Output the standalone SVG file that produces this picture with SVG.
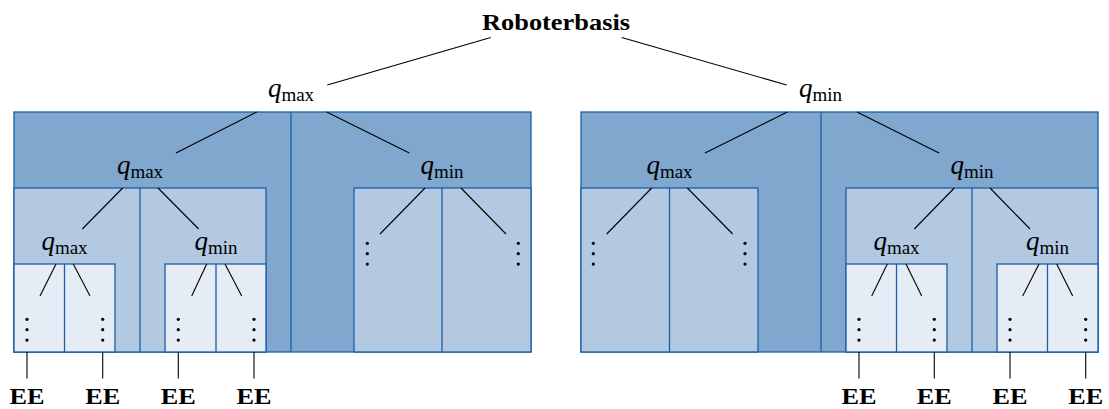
<svg xmlns="http://www.w3.org/2000/svg" width="1109" height="409" viewBox="0 0 1109 409">
<style>
.dark{fill:#80a7ce;stroke:#1b5fa7;stroke-width:1.3}
.mid{fill:#b3c9e1;stroke:#1b5fa7;stroke-width:1.3}
.light{fill:#e5ecf5;stroke:#1b5fa7;stroke-width:1.3}
.div{stroke:#1b5fa7;stroke-width:1.3}
.edge{stroke:#000;stroke-width:1.1;fill:none}
.q{font-family:"Liberation Serif",serif;font-size:27px;fill:#000}
.qi{font-style:italic}
.sub{font-size:19px}
.bold{font-family:"Liberation Serif",serif;font-weight:bold;fill:#000}
.ee{font-size:23px}
.dot{fill:#000}
</style>
<defs>
<g id="vdots"><circle cx="0" cy="0" r="1.6"/><circle cx="0" cy="10.4" r="1.6"/><circle cx="0" cy="20.8" r="1.6"/></g>
</defs>

<g id="box-left">
<rect class="dark" x="14" y="112" width="517" height="240"/>
<line class="div" x1="291" y1="112" x2="291" y2="352"/>
<rect class="mid" x="14" y="188" width="252" height="164"/>
<line class="div" x1="140" y1="188" x2="140" y2="352"/>
<rect class="mid" x="354" y="188" width="177" height="164"/>
<line class="div" x1="442" y1="188" x2="442" y2="352"/>
<rect class="light" x="14" y="264" width="101" height="88"/>
<line class="div" x1="64.5" y1="264" x2="64.5" y2="352"/>
<rect class="light" x="165" y="264" width="101" height="88"/>
<line class="div" x1="216" y1="264" x2="216" y2="352"/>
</g>

<g id="box-right">
<rect class="dark" x="581" y="112" width="517" height="240"/>
<line class="div" x1="821" y1="112" x2="821" y2="352"/>
<rect class="mid" x="581" y="188" width="177" height="164"/>
<line class="div" x1="669.5" y1="188" x2="669.5" y2="352"/>
<rect class="mid" x="846" y="188" width="252" height="164"/>
<line class="div" x1="972" y1="188" x2="972" y2="352"/>
<rect class="light" x="846" y="264" width="101" height="88"/>
<line class="div" x1="896.5" y1="264" x2="896.5" y2="352"/>
<rect class="light" x="997" y="264" width="101" height="88"/>
<line class="div" x1="1047.5" y1="264" x2="1047.5" y2="352"/>
</g>

<g id="connectors" class="edge">
<line x1="490.7" y1="37.5" x2="327.3" y2="85"/>
<line x1="621.7" y1="37.5" x2="786.7" y2="85"/>
<line x1="256.7" y1="112" x2="176" y2="153"/>
<line x1="326.7" y1="112" x2="409.3" y2="153"/>
<line x1="787.3" y1="112" x2="705" y2="153"/>
<line x1="857" y1="112" x2="939" y2="153"/>
<line x1="122.7" y1="188" x2="82.3" y2="229"/>
<line x1="158" y1="188" x2="198.7" y2="229"/>
<line x1="425" y1="188" x2="380" y2="234"/>
<line x1="461" y1="188" x2="506" y2="234"/>
<line x1="651.7" y1="188" x2="606.7" y2="234"/>
<line x1="687.3" y1="188" x2="732.7" y2="234"/>
<line x1="954.3" y1="188" x2="914.3" y2="229"/>
<line x1="990" y1="188" x2="1030" y2="229"/>
<line x1="56" y1="264" x2="40" y2="296"/>
<line x1="73.3" y1="264" x2="90" y2="296"/>
<line x1="206.7" y1="264" x2="191.7" y2="296"/>
<line x1="225" y1="264" x2="241.7" y2="296"/>
<line x1="887.3" y1="264" x2="871.7" y2="296"/>
<line x1="906" y1="264" x2="921.7" y2="296"/>
<line x1="1039" y1="264" x2="1022.7" y2="296"/>
<line x1="1056.7" y1="264" x2="1072.7" y2="296"/>
<line x1="27" y1="352" x2="27" y2="378.5"/>
<line x1="102.7" y1="352" x2="102.7" y2="378.5"/>
<line x1="178.3" y1="352" x2="178.3" y2="378.5"/>
<line x1="254" y1="352" x2="254" y2="378.5"/>
<line x1="859" y1="352" x2="859" y2="378.5"/>
<line x1="934.3" y1="352" x2="934.3" y2="378.5"/>
<line x1="1010" y1="352" x2="1010" y2="378.5"/>
<line x1="1085.7" y1="352" x2="1085.7" y2="378.5"/>
</g>

<g id="root"><text class="bold" x="556" y="30" font-size="23" text-anchor="middle" textLength="148" lengthAdjust="spacingAndGlyphs">Roboterbasis</text></g>

<g id="n-qmax-1"><text class="q" x="291" y="97" text-anchor="middle"><tspan class="qi">q</tspan><tspan class="sub" dy="4">max</tspan></text></g>
<g id="n-qmin-1"><text class="q" x="820.5" y="97" text-anchor="middle"><tspan class="qi">q</tspan><tspan class="sub" dy="4">min</tspan></text></g>

<g id="n-qmax-2a"><text class="q" x="140" y="173.5" text-anchor="middle"><tspan class="qi">q</tspan><tspan class="sub" dy="4">max</tspan></text></g>
<g id="n-qmin-2a"><text class="q" x="442" y="173.5" text-anchor="middle"><tspan class="qi">q</tspan><tspan class="sub" dy="4">min</tspan></text></g>
<g id="n-qmax-2b"><text class="q" x="669.5" y="173.5" text-anchor="middle"><tspan class="qi">q</tspan><tspan class="sub" dy="4">max</tspan></text></g>
<g id="n-qmin-2b"><text class="q" x="972" y="173.5" text-anchor="middle"><tspan class="qi">q</tspan><tspan class="sub" dy="4">min</tspan></text></g>

<g id="n-qmax-3a"><text class="q" x="64.5" y="250" text-anchor="middle"><tspan class="qi">q</tspan><tspan class="sub" dy="4">max</tspan></text></g>
<g id="n-qmin-3a"><text class="q" x="216" y="250" text-anchor="middle"><tspan class="qi">q</tspan><tspan class="sub" dy="4">min</tspan></text></g>
<g id="n-qmax-3b"><text class="q" x="896.5" y="250" text-anchor="middle"><tspan class="qi">q</tspan><tspan class="sub" dy="4">max</tspan></text></g>
<g id="n-qmin-3b"><text class="q" x="1047.5" y="250" text-anchor="middle"><tspan class="qi">q</tspan><tspan class="sub" dy="4">min</tspan></text></g>

<g id="dots-level2" class="dot">
<use href="#vdots" x="367.3" y="243.3"/>
<use href="#vdots" x="518.3" y="243.3"/>
<use href="#vdots" x="593.3" y="243.3"/>
<use href="#vdots" x="745" y="243.3"/>
</g>
<g id="dots-level3" class="dot">
<use href="#vdots" x="27" y="319.3"/>
<use href="#vdots" x="102.7" y="319.3"/>
<use href="#vdots" x="178.3" y="319.3"/>
<use href="#vdots" x="254" y="319.3"/>
<use href="#vdots" x="859" y="319.3"/>
<use href="#vdots" x="934.3" y="319.3"/>
<use href="#vdots" x="1010" y="319.3"/>
<use href="#vdots" x="1085.7" y="319.3"/>
</g>

<g id="ee-1"><text class="bold ee" x="27" y="404" text-anchor="middle" textLength="35" lengthAdjust="spacingAndGlyphs">EE</text></g>
<g id="ee-2"><text class="bold ee" x="102.7" y="404" text-anchor="middle" textLength="35" lengthAdjust="spacingAndGlyphs">EE</text></g>
<g id="ee-3"><text class="bold ee" x="178.3" y="404" text-anchor="middle" textLength="35" lengthAdjust="spacingAndGlyphs">EE</text></g>
<g id="ee-4"><text class="bold ee" x="254" y="404" text-anchor="middle" textLength="35" lengthAdjust="spacingAndGlyphs">EE</text></g>
<g id="ee-5"><text class="bold ee" x="859" y="404" text-anchor="middle" textLength="35" lengthAdjust="spacingAndGlyphs">EE</text></g>
<g id="ee-6"><text class="bold ee" x="934.3" y="404" text-anchor="middle" textLength="35" lengthAdjust="spacingAndGlyphs">EE</text></g>
<g id="ee-7"><text class="bold ee" x="1010" y="404" text-anchor="middle" textLength="35" lengthAdjust="spacingAndGlyphs">EE</text></g>
<g id="ee-8"><text class="bold ee" x="1085.7" y="404" text-anchor="middle" textLength="35" lengthAdjust="spacingAndGlyphs">EE</text></g>
</svg>
